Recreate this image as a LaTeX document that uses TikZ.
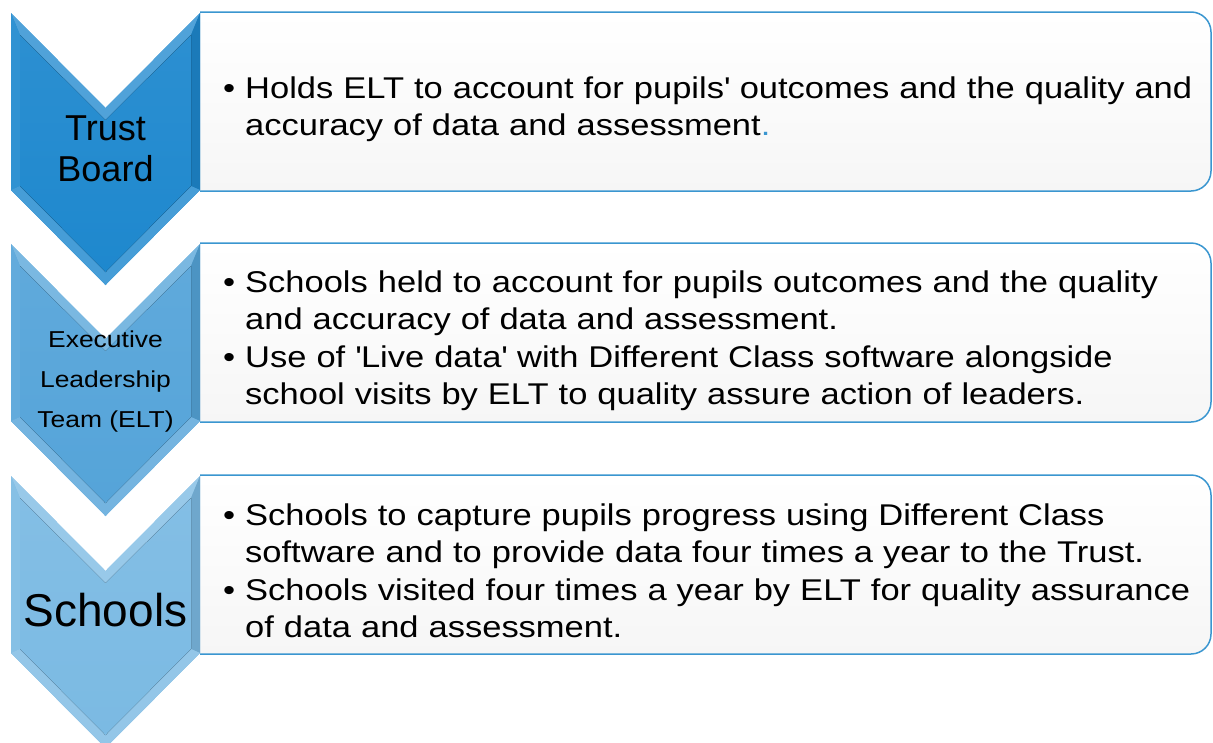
\documentclass[tikz,border=0pt]{standalone}
\usepackage{fontspec}
\setmainfont{Liberation Sans}
\newfontfamily\widesans[FakeStretch=1.15]{Liberation Sans}
\usetikzlibrary{positioning}

\definecolor{trustblue}{HTML}{1E88CE}
\definecolor{eltblue}{HTML}{55A4D9}
\definecolor{schoolblue}{HTML}{7BBAE3}
\definecolor{rimblue}{HTML}{3A96D0}

% bullet with hanging indent
\newcommand{\bul}{\par\noindent\hangindent=22pt\hangafter=1\makebox[22pt][l]{\textbullet}}

% down chevron with a bevelled rim: #1 top edge, #2 colour
\newcommand{\downchevron}[2]{%
  \fill[#2] (11,#1) -- (105.5,#1+95) -- (200,#1) -- (200,#1+177) -- (105.5,#1+272) -- (11,#1+177) -- cycle;
  \fill[#2!78!white] (11,#1) -- (105.5,#1+95) -- (200,#1) -- (191,#1+22) -- (105.5,#1+107) -- (20,#1+22) -- cycle;
  \fill[#2!92!white] (11,#1) -- (20,#1+22) -- (20,#1+173) -- (11,#1+177) -- cycle;
  \fill[#2!90!black] (200,#1) -- (191,#1+22) -- (191,#1+173) -- (200,#1+177) -- cycle;
  \fill[#2!82!white] (11,#1+177) -- (20,#1+173) -- (105.5,#1+259) -- (191,#1+173) -- (200,#1+177) -- (105.5,#1+272) -- cycle;
  \fill[top color=#2!94!white, bottom color=#2] (20,#1+22) -- (105.5,#1+107) -- (191,#1+22) -- (191,#1+173) -- (105.5,#1+259) -- (20,#1+173) -- cycle;
}

% text panel, rounded on the right only: #1 top edge
\newcommand{\textpanel}[1]{%
  \path[panel] (200,#1) -- (1211,#1) -- (1211,#1+179) -- (200,#1+179);
}

\begin{document}
\begin{tikzpicture}[
    x=1pt, y=-1pt,
    panel/.style={draw=rimblue, line width=1.5pt, rounded corners=20pt, top color=white, bottom color=gray!7},
    lbl/.style={align=center, inner sep=0pt},
    bodytext/.style={anchor=west, inner sep=0pt, text width=985pt, align=left,
      font=\widesans\fontsize{30}{37}\selectfont, execute at begin node={\setlength{\parskip}{1pt}}}
  ]
    \useasboundingbox (0,0) rectangle (1213,742);

    % panels behind the chevrons
    \textpanel{12}
    \textpanel{243}
    \textpanel{475}

    \downchevron{13}{trustblue}
    \downchevron{244}{eltblue}
    \downchevron{476}{schoolblue}

    % Row 1: Trust Board
    \node[lbl, font=\fontsize{36}{41}\selectfont] (trustLbl) at (105.5,149) {Trust\\Board};
    \node[bodytext] (trustTxt) at (223,101) {%
      \bul Holds ELT to account for pupils\textquotesingle{} outcomes and the quality and\newline
      accuracy of data and assessment\textcolor{rimblue}{.}\par};

    % Row 2: Executive Leadership Team
    \node[lbl, font=\widesans\fontsize{23}{40}\selectfont] (eltLbl) at (105.5,382) {Executive\\Leadership\\Team (ELT)};
    \node[bodytext] (eltTxt) at (223,333) {%
      \bul Schools held to account for pupils outcomes and the quality\newline
      and accuracy of data and assessment.
      \bul Use of \textquotesingle Live data\textquotesingle{} with Different Class software alongside\newline
      school visits by ELT to quality assure action of leaders.\par};

    % Row 3: Schools
    \node[lbl, font=\fontsize{46}{50}\selectfont] (schoolLbl) at (105.5,610) {Schools};
    \node[bodytext] (schoolTxt) at (223,563) {%
      \bul Schools to capture pupils progress using Different Class\newline
      software and to provide data four times a year to the Trust.
      \bul Schools visited four times a year by ELT for quality assurance\newline
      of data and assessment.\par};
\end{tikzpicture}
\end{document}
